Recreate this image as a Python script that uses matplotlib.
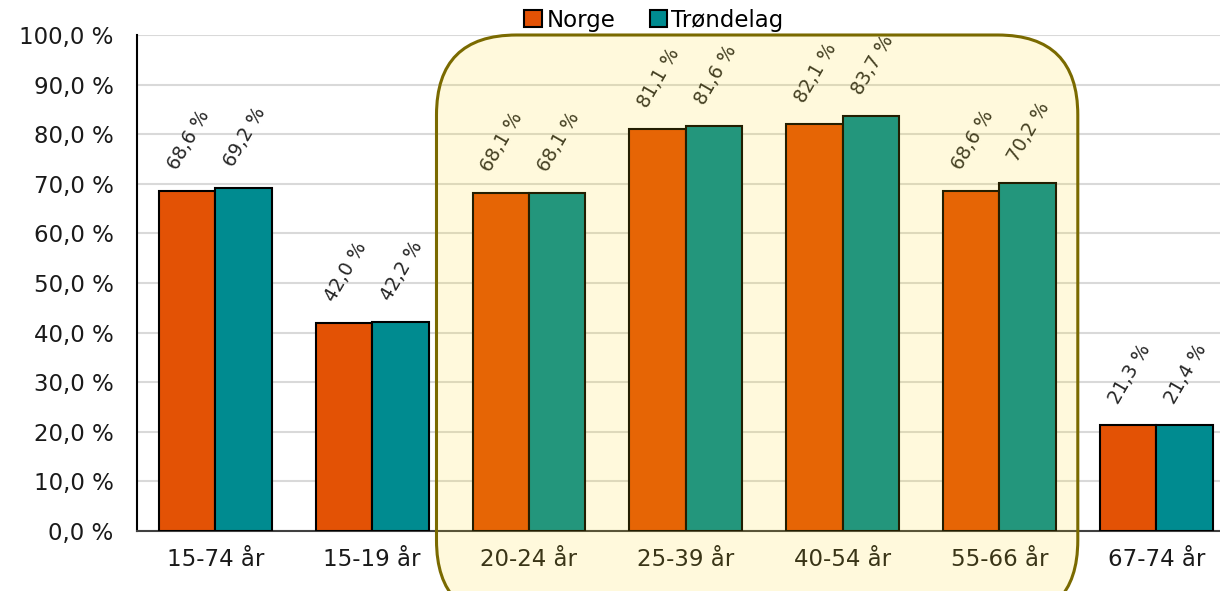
import matplotlib.pyplot as plt
import numpy as np
from matplotlib.patches import FancyBboxPatch
from matplotlib.ticker import FuncFormatter

plt.rcParams['font.family'] = ['DejaVu Sans']

# Data
categories = ['15-74 år', '15-19 år', '20-24 år', '25-39 år',
              '40-54 år', '55-66 år', '67-74 år']
norge = [68.6, 42.0, 68.1, 81.1, 82.1, 68.6, 21.3]
trondelag = [69.2, 42.2, 68.1, 81.6, 83.7, 70.2, 21.4]
series_names = ['Norge', 'Trøndelag']
highlight = (2, 5)  # first and last highlighted category

W, H = 1220, 591
fig = plt.figure(figsize=(W / 100, H / 100), dpi=100)
ax = fig.add_axes([137 / W, 60 / H, 1097.6 / W, 496 / H])

x = np.arange(len(categories))
bw = 0.36
b1 = ax.bar(x - bw / 2, norge, bw, color='#E35205', edgecolor='black',
            linewidth=1.5, zorder=3, label=series_names[0])
b2 = ax.bar(x + bw / 2, trondelag, bw, color='#008B90', edgecolor='black',
            linewidth=1.5, zorder=3, label=series_names[1])


def pct(v):
    return f'{v:.1f} %'.replace('.', ',')


for bars, vals in ((b1, norge), (b2, trondelag)):
    for rect, v in zip(bars, vals):
        ax.annotate(pct(v), (rect.get_x() + rect.get_width() / 2 + 0.01, v),
                    xytext=(0, 13), textcoords='offset points',
                    ha='center', va='bottom', rotation=60,
                    fontsize=13.5, color='#262626', zorder=4)

ax.set_xlim(-0.5, len(categories) - 0.5)
ax.set_ylim(0, 100)
ax.set_yticks(np.arange(0, 101, 10))
ax.yaxis.set_major_formatter(FuncFormatter(lambda v, p: pct(v)))
ax.set_xticks(x)
ax.set_xticklabels(categories)
ax.tick_params(axis='y', length=0, pad=17, labelsize=16.5, labelcolor='#1a1a1a')
ax.tick_params(axis='x', length=0, pad=12, labelsize=16.5, labelcolor='#1a1a1a')

ax.grid(axis='y', color='#D9D9D9', linewidth=1.5, zorder=0)
ax.set_axisbelow(True)
for s in ('top', 'right'):
    ax.spines[s].set_visible(False)
ax.spines['left'].set_color('black')
ax.spines['left'].set_linewidth(1.5)
ax.spines['bottom'].set_color('#404040')
ax.spines['bottom'].set_linewidth(1.5)

# highlight box (translucent overlay), in data units with aspect correction
px_x = 1097.6 / len(categories)
px_y = 496 / 100
x0 = highlight[0] - 0.59
x1 = highlight[1] + 0.5
y0, y1 = -18, 100
box = FancyBboxPatch((x0, y0), x1 - x0, y1 - y0,
                     boxstyle='round,pad=0,rounding_size=0.51',
                     mutation_aspect=px_x / px_y,
                     transform=ax.transData, clip_on=False,
                     facecolor=(1.0, 0.86, 0.03, 0.14),
                     edgecolor='#7A6A00', linewidth=2.2, zorder=2)
fig.patches.append(box)
box.set_figure(fig)

fig.legend(handles=[b1, b2], labels=series_names, loc='center',
           bbox_to_anchor=(654 / W, 1 - 20 / H), ncol=2, frameon=False,
           fontsize=16.5, handlelength=0.75, handleheight=0.75,
           handletextpad=0.2, columnspacing=1.5, borderpad=0)

fig.savefig('out.png', dpi=100)
